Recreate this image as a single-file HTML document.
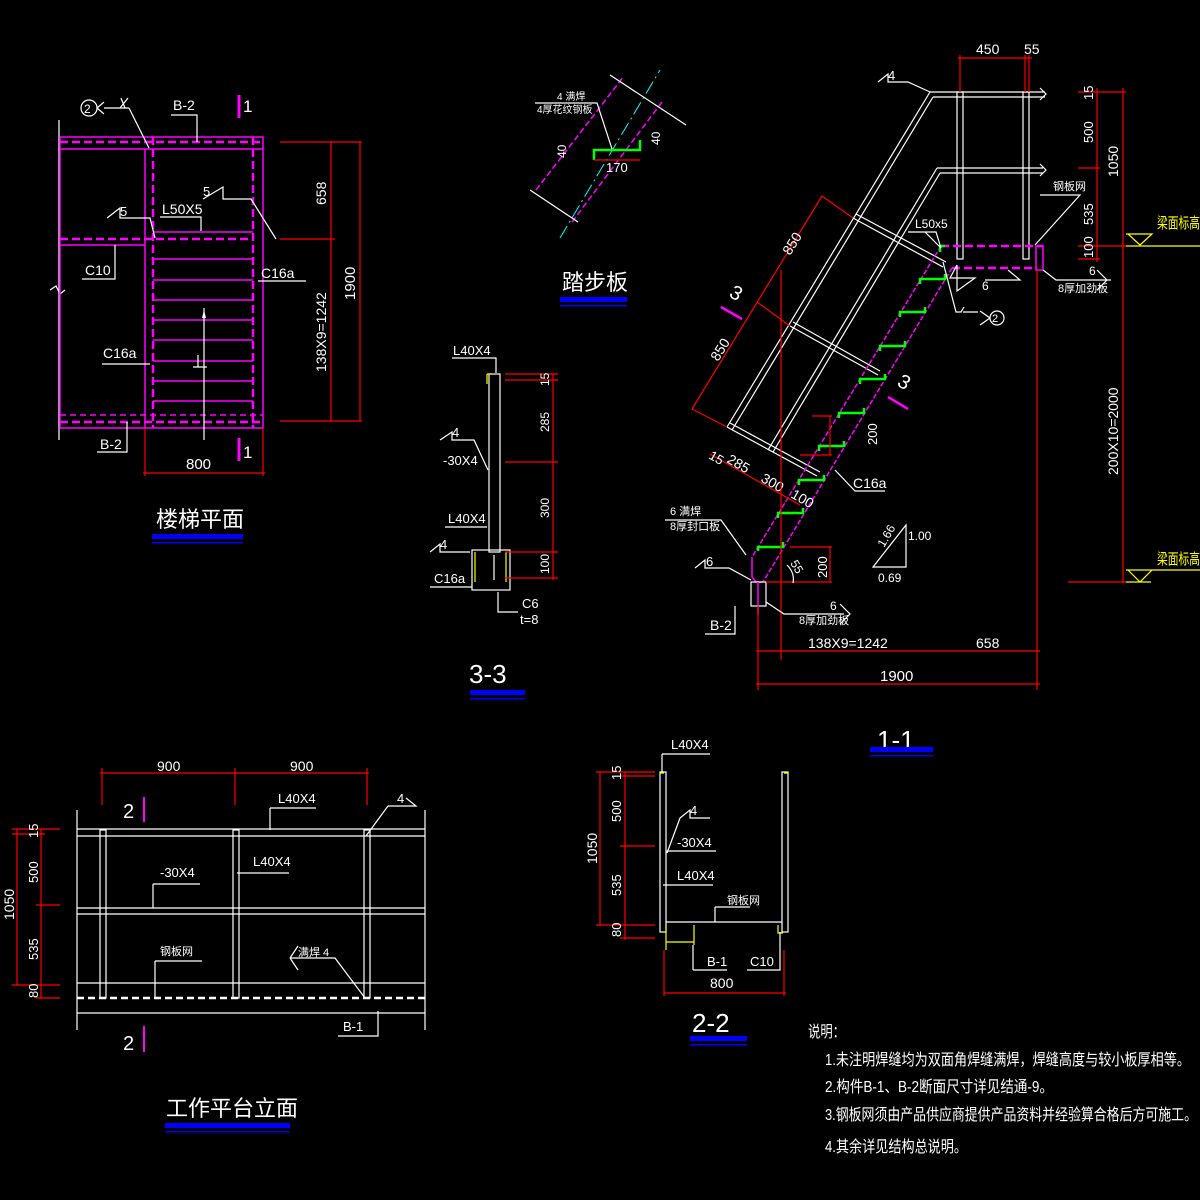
<!DOCTYPE html>
<html><head><meta charset="utf-8"><style>
html,body{margin:0;padding:0;background:#000;}
svg{display:block}
text{font-family:"Liberation Sans","Noto Sans CJK SC",sans-serif;fill:#fff}
.w{stroke:#fff;fill:none;stroke-width:1.2}
.m{stroke:#f0f;fill:none;stroke-width:1.5}
.r{stroke:#f00;fill:none;stroke-width:1.2}
.g{stroke:#0f0;fill:none;stroke-width:2.5}
.y{stroke:#ff0;fill:none;stroke-width:1.2}
.md{stroke:#f0f;fill:none;stroke-width:2.5;stroke-dasharray:8 4}
.yt{fill:#ff0}
.big{font-size:22px}
</style></head><body>
<svg width="1200" height="1200" viewBox="0 0 1200 1200" font-size="13" xmlns="http://www.w3.org/2000/svg">
<rect width="1200" height="1200" fill="#000"/>

<!-- ============ 楼梯平面 ============ -->
<g>
<line class="w" x1="59" y1="120" x2="59" y2="440"/>
<path class="w" d="M50,290 l6,-4 l4,8 l5,-4"/>
<rect class="m" x="60" y="137" width="203" height="291"/>
<line class="md" x1="60" y1="142" x2="263" y2="142"/>
<line class="m" x1="60" y1="149" x2="263" y2="149"/>
<line class="md" x1="60" y1="422" x2="263" y2="422"/>
<line class="m" x1="60" y1="415" x2="263" y2="415" stroke-dasharray="6 4" stroke-width="1"/>
<line class="m" x1="145" y1="149" x2="145" y2="428"/>
<line class="md" x1="153" y1="137" x2="153" y2="428"/>
<line class="md" x1="253" y1="137" x2="253" y2="428"/>
<line class="md" x1="60" y1="239" x2="253" y2="239"/>
<line class="m" x1="60" y1="245" x2="145" y2="245"/>
<line class="m" x1="153" y1="232" x2="253" y2="232"/>
<g class="m">
<line x1="153" y1="259" x2="253" y2="259"/><line x1="153" y1="280" x2="253" y2="280"/>
<line x1="153" y1="300" x2="253" y2="300"/><line x1="153" y1="320" x2="253" y2="320"/>
<line x1="153" y1="340" x2="253" y2="340"/><line x1="153" y1="361" x2="253" y2="361"/>
<line x1="153" y1="381" x2="253" y2="381"/><line x1="153" y1="401" x2="253" y2="401"/>
</g>
<line class="w" x1="204" y1="308" x2="204" y2="440"/>
<path d="M202,318 l2,-8 l2,8z" fill="#fff"/>
<path class="w" d="M193,367 h14 M198,367 v-12"/>
<circle class="w" cx="89" cy="108" r="8"/><text x="84" y="113" font-size="12">2</text>
<path class="w" d="M97,108 l7,-6 M97,108 l7,6 M104,108 h25 M120,108 l8,-10 M125,108 l-4,-10"/>
<path class="w" d="M129,108 l20,40"/>
<text x="173" y="110" font-size="14">B-2</text><path class="w" d="M171,115 h26 v27"/>
<line stroke="#f0f" stroke-width="3" x1="239" y1="95" x2="239" y2="118"/><text x="243" y="112" font-size="17">1</text>
<line stroke="#f0f" stroke-width="3" x1="239" y1="438" x2="239" y2="461"/><text x="243" y="458" font-size="17">1</text>
<text x="203" y="196">5</text><path class="w" d="M203,199 l20,-12 v12 h28 l25,40"/>
<text x="120" y="216">5</text><path class="w" d="M107,218 l13,-10 v10 h30 l5,20"/>
<text x="162" y="214" font-size="14">L50X5</text><path class="w" d="M160,217 h41 v14"/>
<text x="85" y="275" font-size="14">C10</text><path class="w" d="M82,279 h33 v-34"/>
<text x="261" y="278" font-size="14">C16a</text><path class="w" d="M258,281 h48"/>
<text x="103" y="358" font-size="14">C16a</text><path class="w" d="M102,364 h48"/>
<text x="100" y="449" font-size="14">B-2</text><path class="w" d="M97,452 h30 v-30"/>
<line class="r" x1="331" y1="142" x2="331" y2="421"/>
<line class="r" x1="360" y1="142" x2="360" y2="421"/>
<line class="r" x1="280" y1="142" x2="362" y2="142"/>
<line class="r" x1="280" y1="239" x2="335" y2="239"/>
<line class="r" x1="280" y1="421" x2="362" y2="421"/>
<text transform="translate(326,205) rotate(-90)" font-size="14">658</text>
<text transform="translate(326,372) rotate(-90)" font-size="14">138X9=1242</text>
<text transform="translate(355,300) rotate(-90)" font-size="15">1900</text>
<line class="r" x1="143" y1="473" x2="265" y2="473"/>
<line class="r" x1="145" y1="428" x2="145" y2="476"/>
<line class="r" x1="263" y1="428" x2="263" y2="476"/>
<text x="186" y="469" font-size="15">800</text>
<text x="156" y="527" class="big">楼梯平面</text>
<rect x="152" y="534" width="91" height="5" fill="#00f"/><rect x="152" y="542" width="91" height="1.5" fill="#00f"/>
</g>

<!-- ============ 踏步板 ============ -->
<g>
<line class="m" x1="536" y1="190" x2="624" y2="76" stroke-dasharray="6 3"/>
<line class="m" x1="572" y1="222" x2="662" y2="102" stroke-dasharray="6 3"/>
<line stroke="#0ff" stroke-width="1" x1="560" y1="238" x2="660" y2="70" stroke-dasharray="14 4 2 4"/>
<line class="w" x1="530" y1="190" x2="578" y2="222"/>
<line class="w" x1="610" y1="75" x2="686" y2="125"/>
<path class="g" d="M594,160 v-10 h46 v-10"/>
<text x="557" y="100" font-size="10">4 满焊</text>
<text x="537" y="113" font-size="10">4厚花纹钢板</text>
<path class="w" d="M535,103 h62 l15,46"/>
<text x="606" y="172">170</text>
<line class="r" x1="594" y1="160" x2="640" y2="160"/>
<text transform="translate(566,158) rotate(-90)" font-size="12">40</text>
<text transform="translate(660,145) rotate(-90)" font-size="12">40</text>
<text x="562" y="290" class="big">踏步板</text>
<rect x="560" y="297" width="67" height="5" fill="#00f"/><rect x="560" y="305" width="67" height="1.5" fill="#00f"/>
</g>

<!-- ============ 3-3 ============ -->
<g>
<rect class="w" x="489" y="374" width="11" height="178"/>
<path class="y" d="M487,374 h6 M487,374 v10" stroke-width="2.5"/>
<rect class="w" x="472" y="550" width="38" height="40"/>
<path class="y" d="M475,552 v30 M506,552 v30" stroke-width="2"/>
<line class="w" x1="494" y1="555" x2="494" y2="580"/>
<text x="453" y="355">L40X4</text><path class="w" d="M452,358 h44 v15"/>
<text x="452" y="437">4</text><path class="w" d="M440,440 l12,-8 v8 h22 l14,30"/>
<text x="443" y="465">-30X4</text>
<text x="448" y="523">L40X4</text><path class="w" d="M445,527 h42"/>
<text x="440" y="549">4</text><path class="w" d="M430,552 l10,-8 v8 h30"/>
<text x="434" y="583">C16a</text><path class="w" d="M430,587 h42"/>
<text x="522" y="608">C6</text><text x="520" y="624">t=8</text><path class="w" d="M518,612 h-20 v-20"/>
<line class="r" x1="553" y1="374" x2="553" y2="580"/>
<g class="r"><line x1="505" y1="374" x2="558" y2="374"/><line x1="505" y1="380" x2="558" y2="380"/>
<line x1="505" y1="462" x2="558" y2="462"/><line x1="505" y1="552" x2="558" y2="552"/><line x1="505" y1="578" x2="558" y2="578"/></g>
<text transform="translate(549,386) rotate(-90)" font-size="12">15</text>
<text transform="translate(549,432) rotate(-90)" font-size="12">285</text>
<text transform="translate(549,518) rotate(-90)" font-size="12">300</text>
<text transform="translate(549,574) rotate(-90)" font-size="12">100</text>
<text x="469" y="683" font-size="26">3-3</text>
<rect x="470" y="690" width="55" height="5" fill="#00f"/><rect x="470" y="698" width="55" height="1.5" fill="#00f"/>
</g>

<!-- ============ 1-1 ============ -->
<g>
<path class="w" d="M930,92 H1045 M933,97 H1045 M1040,88 l6,6 l-6,6"/>
<path class="w" d="M937,168 H1043 M940,173 H1043 M1040,164 l6,6 l-6,6"/>
<line class="w" x1="930" y1="92" x2="727" y2="427"/>
<line class="w" x1="933" y1="97" x2="732" y2="430"/>
<line class="w" x1="937" y1="168" x2="768" y2="450"/>
<line class="w" x1="940" y1="173" x2="773" y2="452"/>
<rect class="w" x="957" y="92" width="6" height="167"/>
<rect class="w" x="1023" y="92" width="6" height="167"/>
<path class="w" d="M853,218 L943,267 M856,214 L946,262"/>
<path class="w" d="M790,326 L878,375 M793,322 L880,371"/>
<path class="w" d="M727,427 L817,476 M730,423 L820,472"/>
<line class="md" x1="941" y1="246" x2="1043" y2="246"/>
<line class="md" x1="952" y1="268" x2="1037" y2="268"/>
<rect class="m" x="1036" y="246" width="7" height="24"/>
<line class="m" x1="941" y1="246" x2="752" y2="557" stroke-dasharray="5 2"/>
<line class="m" x1="952" y1="268" x2="763" y2="582" stroke-dasharray="5 2"/>
<path class="m" d="M752,557 v20 l4,5 h7"/>
<rect class="w" x="751" y="582" width="15" height="24"/>
<line class="m" x1="758" y1="582" x2="758" y2="615"/>
<g class="g">
<path d="M758,551 v-4 h25 v-5"/><path d="M778,518 v-5 h25 v-5"/><path d="M799,485 v-5 h25 v-5"/>
<path d="M819,451 v-5 h25 v-5"/><path d="M839,418 v-5 h25 v-5"/><path d="M860,384 v-5 h25 v-5"/>
<path d="M880,351 v-5 h25 v-5"/><path d="M900,317 v-5 h25 v-5"/><path d="M920,284 v-5 h25 v-5"/>
</g>
<path class="g" d="M940,252 v-6 h5" stroke-width="2"/>
<line class="r" x1="822" y1="196" x2="692" y2="409"/>
<line class="r" x1="822" y1="196" x2="853" y2="218"/>
<line class="r" x1="757" y1="302" x2="790" y2="326"/>
<line class="r" x1="692" y1="409" x2="727" y2="427"/>
<line class="r" x1="710" y1="454" x2="800" y2="505"/>
<text transform="translate(790,256) rotate(-58)" font-size="14">850</text>
<text transform="translate(718,362) rotate(-58)" font-size="14">850</text>
<text transform="translate(708,458) rotate(30)" font-size="13">15</text>
<text transform="translate(726,462) rotate(30)" font-size="14">285</text>
<text transform="translate(760,481) rotate(30)" font-size="14">300</text>
<text transform="translate(790,497) rotate(30)" font-size="14">100</text>
<line stroke="#f0f" stroke-width="2.5" x1="721" y1="307" x2="742" y2="319"/>
<text transform="translate(728,296) rotate(30)" font-size="20">3</text>
<line stroke="#f0f" stroke-width="2.5" x1="888" y1="397" x2="908" y2="409"/>
<text transform="translate(896,385) rotate(30)" font-size="20">3</text>
<line class="r" x1="781" y1="270" x2="781" y2="660"/>
<line class="r" x1="1037" y1="270" x2="1037" y2="690"/>
<line class="r" x1="758" y1="606" x2="758" y2="690"/>
<line class="r" x1="756" y1="651" x2="1040" y2="651"/>
<line class="r" x1="756" y1="684" x2="1040" y2="684"/>
<text x="808" y="648" font-size="14">138X9=1242</text><text x="976" y="648" font-size="14">658</text><text x="880" y="681" font-size="15">1900</text>
<line class="r" x1="1097" y1="88" x2="1097" y2="262"/>
<line class="r" x1="1123" y1="88" x2="1123" y2="583"/>
<g class="r"><line x1="1078" y1="92" x2="1126" y2="92"/><line x1="1078" y1="168" x2="1100" y2="168"/>
<line x1="1078" y1="246" x2="1126" y2="246"/><line x1="1078" y1="259" x2="1100" y2="259"/>
<line x1="1068" y1="582" x2="1126" y2="582"/></g>
<line class="r" x1="960" y1="55" x2="960" y2="92"/><line class="r" x1="1025" y1="55" x2="1025" y2="92"/><line class="r" x1="1029" y1="55" x2="1029" y2="92"/>
<line class="r" x1="958" y1="58" x2="1032" y2="58"/>
<text x="976" y="54" font-size="14">450</text><text x="1024" y="54" font-size="14">55</text>
<g font-size="13">
<text transform="translate(1093,100) rotate(-90)">15</text>
<text transform="translate(1093,143) rotate(-90)">500</text>
<text transform="translate(1118,177) rotate(-90)" font-size="14">1050</text>
<text transform="translate(1093,225) rotate(-90)">535</text>
<text transform="translate(1093,258) rotate(-90)">100</text>
<text transform="translate(1118,475) rotate(-90)" font-size="14">200X10=2000</text>
</g>
<text x="1157" y="228" class="yt" font-size="15" textLength="43" lengthAdjust="spacingAndGlyphs">梁面标高</text>
<path class="y" d="M1126,246 H1200 M1128,234 h24 l-12,11z M1126,234 h25"/>
<text x="1157" y="564" class="yt" font-size="15" textLength="43" lengthAdjust="spacingAndGlyphs">梁面标高</text>
<path class="y" d="M1126,570 H1200 M1128,570 h24 l-12,12z M1126,582 h25"/>
<text x="888" y="80">4</text><path class="w" d="M878,82 l10,-8 v8 h20 l22,10"/>
<text x="915" y="228" font-size="12">L50x5</text><path class="w" d="M908,232 h28 l5,16 l-16,-16"/>
<text x="1053" y="190" font-size="11">钢板网</text><path class="w" d="M1040,195 h40 l-45,50"/>
<path class="w" d="M975,278 h-25 l7,-13 v26 z" /><text x="982" y="290" font-size="12">6</text>
<path class="w" d="M985,280 h35 l-12,-10"/>
<path class="w" d="M943,262 l13,50 h5 l3,-5 M963,312 h15"/>
<circle class="w" cx="997" cy="318" r="7"/><text x="992" y="322" font-size="11">2</text>
<path class="w" d="M990,318 l-10,-7 M990,318 l-10,7"/>
<text x="1089" y="275" font-size="12">6</text>
<text x="1058" y="292" font-size="11">8厚加劲板</text>
<path class="w" d="M1043,270 l13,10 h55 M1097,270 l10,10 l-10,10"/>
<text x="853" y="488" font-size="14">C16a</text><path class="w" d="M835,470 l20,21 h30"/>
<line class="r" x1="830" y1="416" x2="830" y2="455"/><line class="r" x1="800" y1="455" x2="832" y2="455"/><line class="r" x1="812" y1="416" x2="832" y2="416"/>
<text transform="translate(877,445) rotate(-90)" font-size="13">200</text>
<line class="r" x1="830" y1="547" x2="830" y2="582"/><line class="r" x1="790" y1="547" x2="832" y2="547"/><line class="r" x1="766" y1="582" x2="832" y2="582"/>
<text transform="translate(827,578) rotate(-90)" font-size="13">200</text>
<text transform="translate(790,563) rotate(60)" font-size="12">55</text>
<path class="w" d="M787,565 q8,8 6,18"/>
<text x="670" y="515" font-size="11">6 满焊</text><text x="670" y="530" font-size="11">8厚封口板</text>
<path class="w" d="M665,520 h56 l25,35"/>
<text x="706" y="566">6</text><path class="w" d="M695,568 l10,-8 v8 h24 l22,12"/>
<text x="710" y="630" font-size="14">B-2</text><path class="w" d="M705,634 h30 v-28"/>
<text x="830" y="610" font-size="12">6</text><text x="799" y="624" font-size="11">8厚加劲板</text>
<path class="w" d="M766,602 l18,12 h60 M840,604 l10,10 l-10,10"/>
<path class="w" d="M873,567 l33,-42 v42 z"/>
<text transform="translate(884,548) rotate(-60)" font-size="12">1.66</text>
<text x="908" y="540" font-size="12">1.00</text><text x="878" y="582" font-size="12">0.69</text>
<text x="877" y="749" font-size="26">1-1</text>
<rect x="870" y="747" width="63" height="5" fill="#00f"/><rect x="870" y="755" width="63" height="1.5" fill="#00f"/>
</g>

<!-- ============ 工作平台立面 ============ -->
<g>
<line class="w" x1="77" y1="810" x2="77" y2="1030"/>
<line class="w" x1="425" y1="810" x2="425" y2="1030"/>
<line class="w" x1="77" y1="829" x2="425" y2="829" stroke-width="2.5"/>
<line class="w" x1="77" y1="836" x2="425" y2="836"/>
<line class="w" x1="77" y1="908" x2="425" y2="908"/>
<line class="w" x1="77" y1="914" x2="425" y2="914"/>
<line class="w" x1="77" y1="983" x2="425" y2="983"/>
<line stroke="#fff" stroke-width="2.5" stroke-dasharray="7 4" x1="77" y1="998" x2="425" y2="998"/>
<line class="w" x1="77" y1="1013" x2="425" y2="1013"/>
<rect class="w" x="100" y="830" width="6" height="168"/>
<rect class="w" x="233" y="830" width="6" height="168"/>
<rect class="w" x="364" y="830" width="6" height="168"/>
<line class="r" x1="100" y1="773" x2="369" y2="773"/>
<line class="r" x1="102" y1="768" x2="102" y2="805"/><line class="r" x1="235" y1="768" x2="235" y2="805"/><line class="r" x1="367" y1="768" x2="367" y2="805"/>
<text x="157" y="771" font-size="14">900</text><text x="290" y="771" font-size="14">900</text>
<text x="123" y="818" font-size="20">2</text><line stroke="#f0f" stroke-width="2" x1="144" y1="797" x2="144" y2="822"/>
<text x="123" y="1050" font-size="20">2</text><line stroke="#f0f" stroke-width="2" x1="144" y1="1026" x2="144" y2="1052"/>
<text x="278" y="803">L40X4</text><path class="w" d="M270,808 h46 M270,808 v22"/>
<text x="397" y="803">4</text><path class="w" d="M388,806 h28 l-10,-8 M388,806 l-22,30"/>
<text x="253" y="866">L40X4</text><path class="w" d="M237,873 h52"/>
<text x="160" y="877">-30X4</text><path class="w" d="M153,884 h47 M153,884 v24"/>
<text x="160" y="955" font-size="11">钢板网</text><path class="w" d="M155,961 h47 M155,961 v37"/>
<text x="298" y="956" font-size="11">满焊 4</text><path class="w" d="M290,958 l8,-12 M290,958 l8,12 M290,958 h45 l30,40"/>
<text x="343" y="1031">B-1</text><path class="w" d="M338,1036 h40 v-25"/>
<line class="r" x1="17" y1="829" x2="17" y2="985"/><line class="r" x1="41" y1="829" x2="41" y2="998"/>
<g class="r"><line x1="12" y1="829" x2="60" y2="829"/><line x1="12" y1="834" x2="45" y2="834"/><line x1="36" y1="905" x2="60" y2="905"/><line x1="12" y1="985" x2="60" y2="985"/><line x1="36" y1="998" x2="60" y2="998"/></g>
<g font-size="13">
<text transform="translate(38,838) rotate(-90)">15</text>
<text transform="translate(38,883) rotate(-90)">500</text>
<text transform="translate(14,920) rotate(-90)" font-size="14">1050</text>
<text transform="translate(38,960) rotate(-90)">535</text>
<text transform="translate(38,998) rotate(-90)">80</text>
</g>
<text x="166" y="1116" class="big">工作平台立面</text>
<rect x="165" y="1123" width="125" height="5" fill="#00f"/><rect x="165" y="1131" width="125" height="1.5" fill="#00f"/>
</g>

<!-- ============ 2-2 ============ -->
<g>
<rect class="w" x="660" y="772" width="6" height="160"/>
<rect class="w" x="782" y="772" width="6" height="160"/>
<path class="y" d="M660,773 h4 M784,773 h4" stroke-width="3"/>
<line class="w" x1="666" y1="922" x2="782" y2="922" stroke-width="2.5"/>
<path class="y" d="M666,925 v25 M694,925 v20 M666,942 h28" stroke-width="2.5"/>
<path class="y" d="M778,925 v8 h5" stroke-width="2.5"/>
<text x="671" y="749">L40X4</text><path class="w" d="M662,754 h48 M662,754 v18"/>
<text x="690" y="815">4</text><path class="w" d="M680,818 l10,-8 v8 h20 M680,818 l-13,35"/>
<text x="677" y="847">-30X4</text><path class="w" d="M666,851 h50"/>
<text x="677" y="880">L40X4</text><path class="w" d="M663,885 h50"/>
<text x="727" y="904" font-size="11">钢板网</text><path class="w" d="M715,907 h35 M715,907 v15"/>
<text x="707" y="966">B-1</text><path class="w" d="M693,970 h34 M693,970 v-25"/>
<text x="750" y="966">C10</text><path class="w" d="M747,970 h33 v-38"/>
<line class="r" x1="664" y1="993" x2="786" y2="993"/>
<line class="r" x1="664" y1="950" x2="664" y2="996"/><line class="r" x1="784" y1="950" x2="784" y2="996"/>
<text x="710" y="988" font-size="14">800</text>
<line class="r" x1="600" y1="772" x2="600" y2="925"/><line class="r" x1="625" y1="772" x2="625" y2="940"/>
<g class="r"><line x1="596" y1="772" x2="655" y2="772"/><line x1="620" y1="776" x2="655" y2="776"/><line x1="620" y1="846" x2="655" y2="846"/><line x1="596" y1="925" x2="655" y2="925"/><line x1="620" y1="938" x2="655" y2="938"/></g>
<g font-size="13">
<text transform="translate(621,780) rotate(-90)">15</text>
<text transform="translate(621,822) rotate(-90)">500</text>
<text transform="translate(597,864) rotate(-90)" font-size="14">1050</text>
<text transform="translate(621,896) rotate(-90)">535</text>
<text transform="translate(621,937) rotate(-90)">80</text>
</g>
<text x="692" y="1032" font-size="26">2-2</text>
<rect x="690" y="1036" width="57" height="5" fill="#00f"/><rect x="690" y="1044" width="57" height="1.5" fill="#00f"/>
</g>

<!-- ============ Notes ============ -->
<g font-size="16">
<text x="808" y="1037" textLength="37" lengthAdjust="spacingAndGlyphs">说明：</text>
<text x="825" y="1065" textLength="365" lengthAdjust="spacingAndGlyphs">1.未注明焊缝均为双面角焊缝满焊，焊缝高度与较小板厚相等。</text>
<text x="825" y="1092" textLength="228" lengthAdjust="spacingAndGlyphs">2.构件B-1、B-2断面尺寸详见结通-9。</text>
<text x="825" y="1120" textLength="372" lengthAdjust="spacingAndGlyphs">3.钢板网须由产品供应商提供产品资料并经验算合格后方可施工。</text>
<text x="825" y="1152" textLength="142" lengthAdjust="spacingAndGlyphs">4.其余详见结构总说明。</text>
</g>
</svg>
</body></html>
